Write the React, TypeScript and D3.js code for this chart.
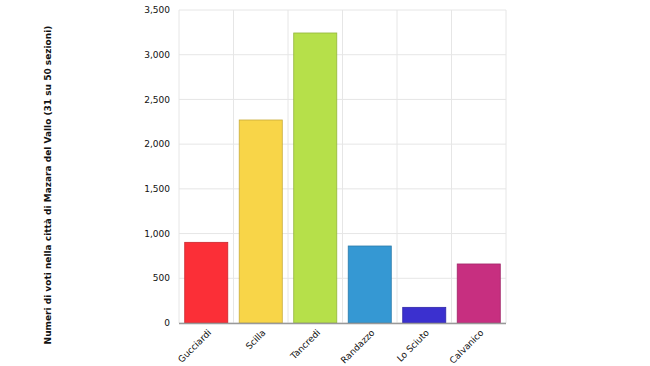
import React, { useEffect, useRef } from "react";
import * as d3 from "d3";

const candidates = ["Gucciardi", "Scilla", "Tancredi", "Randazzo", "Lo Sciuto", "Calvanico"];
const votes = [902, 2270, 3243, 861, 175, 660];
const colors = ["#fb2f37", "#f8d548", "#b6e04a", "#3598d3", "#3b30cf", "#c72f80"];
const yTicks = [0, 500, 1000, 1500, 2000, 2500, 3000, 3500];
const yTitle = "Numeri di voti nella città di Mazara del Vallo (31 su 50 sezioni)";

const App = () => {
  const svgRef = useRef<SVGSVGElement>(null);

  useEffect(() => {
    const width = 650;
    const height = 366;
    const margin = { top: 10, right: 144, bottom: 43, left: 179 };
    const innerWidth = width - margin.left - margin.right;
    const innerHeight = height - margin.top - margin.bottom;

    const root = d3.select(svgRef.current);
    root.selectAll("*").remove();

    const svg = root
      .append("g")
      .attr("transform", `translate(${margin.left},${margin.top})`);

    const x = d3.scaleBand().domain(candidates).range([0, innerWidth]).paddingInner(0.21).paddingOuter(0.105);
    const y = d3.scaleLinear().domain([0, 3500]).range([innerHeight, 0]);
    const band = x.step();

    // horizontal grid
    svg
      .selectAll(".hgrid")
      .data(yTicks)
      .enter()
      .append("line")
      .attr("x1", 0)
      .attr("x2", innerWidth)
      .attr("y1", (d) => y(d))
      .attr("y2", (d) => y(d))
      .attr("stroke", "#e6e6e6")
      .attr("stroke-width", 1);

    // vertical grid at category boundaries
    const bounds = d3.range(candidates.length + 1).map((i) => i * (innerWidth / candidates.length));
    svg
      .selectAll(".vgrid")
      .data(bounds)
      .enter()
      .append("line")
      .attr("x1", (d) => d)
      .attr("x2", (d) => d)
      .attr("y1", 0)
      .attr("y2", innerHeight)
      .attr("stroke", "#e6e6e6")
      .attr("stroke-width", 1);

    svg
      .selectAll(".bar")
      .data(candidates)
      .enter()
      .append("rect")
      .attr("x", (d) => x(d)!)
      .attr("y", (d, i) => y(votes[i]))
      .attr("width", x.bandwidth())
      .attr("height", (d, i) => innerHeight - y(votes[i]))
      .attr("fill", (d, i) => colors[i])
      .attr("stroke", (d, i) => d3.color(colors[i])!.darker(0.6).toString())
      .attr("stroke-width", 0.8);

    // axis line
    svg
      .append("line")
      .attr("x1", 0)
      .attr("x2", innerWidth)
      .attr("y1", innerHeight + 0.5)
      .attr("y2", innerHeight + 0.5)
      .attr("stroke", "#999")
      .attr("stroke-width", 1.5);

    // y tick labels
    svg
      .selectAll(".ylab")
      .data(yTicks)
      .enter()
      .append("text")
      .attr("x", -9)
      .attr("y", (d) => y(d))
      .attr("dy", "0.35em")
      .attr("text-anchor", "end")
      .style("font-family", "DejaVu Sans, Verdana, sans-serif")
      .style("font-size", "9px")
      .style("fill", "#111")
      .text((d) => d3.format(",")(d));

    // x labels
    svg
      .selectAll(".xlab")
      .data(candidates)
      .enter()
      .append("text")
      .attr("transform", (d) => `translate(${x(d)! + band * 0.4 + 3},${innerHeight + 8}) rotate(-45)`)
      .attr("text-anchor", "end")
      .attr("dy", "0.35em")
      .style("font-family", "DejaVu Sans, Verdana, sans-serif")
      .style("font-size", "9px")
      .style("fill", "#111")
      .text((d) => d);

    // y title
    root
      .append("text")
      .attr("transform", `translate(48,185) rotate(-90)`)
      .attr("text-anchor", "middle")
      .attr("dy", "0.35em")
      .style("font-family", "DejaVu Sans, Verdana, sans-serif")
      .style("font-size", "9px")
      .style("font-weight", "bold")
      .style("fill", "#111")
      .text(yTitle);
  }, []);

  return (
    <svg
      ref={svgRef}
      width={650}
      height={366}
      style={{ position: "absolute", left: 0, top: 0, background: "#fff" }}
    />
  );
};

export default App;
